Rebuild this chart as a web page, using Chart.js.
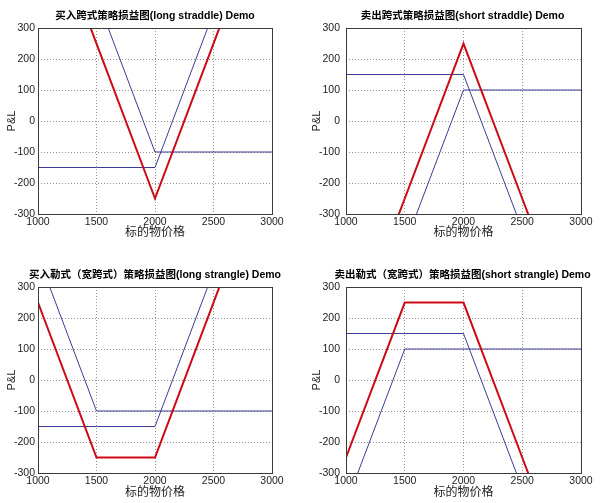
<!DOCTYPE html>
<html>
<head>
<meta charset="utf-8">
<script src="https://cdn.jsdelivr.net/npm/chart.js@4.4.1/dist/chart.umd.min.js"></script>
<style>
    body { margin: 0; background: #fff; width: 600px; height: 503px; position: relative; overflow: hidden; }
    .box { position: absolute; }
</style>
</head>
<body>
<div class="box" style="left:0;top:0;width:310px;height:250px"><canvas id="longStraddle"></canvas></div>
<div class="box" style="left:300px;top:0;width:325px;height:250px"><canvas id="shortStraddle"></canvas></div>
<div class="box" style="left:0;top:250px;width:310px;height:253px"><canvas id="longStrangle"></canvas></div>
<div class="box" style="left:300px;top:250px;width:325px;height:253px"><canvas id="shortStrangle"></canvas></div>
<script>
// underlying prices (kinks at the strikes 1500 / 2000)
const prices = [1000, 1500, 2000, 2500, 3000];
const xTicks = [1000, 1500, 2000, 2500, 3000];
const yTicks = [-300, -200, -100, 0, 100, 200, 300];

// long straddle, strike 2000
const longStraddleCall = [-150, -150, -150, 350, 850];
const longStraddlePut = [900, 400, -100, -100, -100];
const longStraddleTotal = [750, 250, -250, 250, 750];

// short straddle, strike 2000
const shortStraddleCall = [150, 150, 150, -350, -850];
const shortStraddlePut = [-900, -400, 100, 100, 100];
const shortStraddleTotal = [-750, -250, 250, -250, -750];

// long strangle, put 1500 / call 2000
const longStrangleCall = [-150, -150, -150, 350, 850];
const longStranglePut = [400, -100, -100, -100, -100];
const longStrangleTotal = [250, -250, -250, 250, 750];

// short strangle, put 1500 / call 2000
const shortStrangleCall = [150, 150, 150, -350, -850];
const shortStranglePut = [-400, 100, 100, 100, 100];
const shortStrangleTotal = [-250, 250, 250, -250, -750];

const FONT = "'Liberation Sans', 'Noto Sans CJK SC', Arial, sans-serif";
const RED = '#cc0a14';
const BLUE = '#3b3b98';

function pts(vals) {
    return prices.map((p, i) => ({ x: p, y: vals[i] }));
}

// black box round the plot area, like matlab's "box on"
const framePlugin = {
    id: 'frame',
    afterDraw(chart) {
        const { ctx, chartArea: a } = chart;
        ctx.save();
        ctx.strokeStyle = '#3a3a3a';
        ctx.lineWidth = 1;
        ctx.strokeRect(Math.round(a.left) + 0.5, Math.round(a.top) + 0.5,
            Math.round(a.right - a.left), Math.round(a.bottom - a.top));
        ctx.restore();
    }
};

// canvases are sized so their centre sits over the plot centre, so the
// full-width title ends up centred on the axes like in matlab.
// an empty right axis takes the right margin (layout padding would shift the title)
function makeChart(id, title, total, call, put, lay) {
    const ctx = document.getElementById(id).getContext('2d');
    return new Chart(ctx, {
        type: 'line',
        data: {
            datasets: [
                { data: pts(total), borderColor: RED, borderWidth: 2 },
                { data: pts(call), borderColor: BLUE, borderWidth: 1 },
                { data: pts(put), borderColor: BLUE, borderWidth: 1 }
            ]
        },
        options: {
            responsive: true,
            maintainAspectRatio: false,
            animation: false,
            layout: { padding: 0 },
            elements: {
                point: { radius: 0 },
                line: { tension: 0, fill: false }
            },
            datasets: { line: { clip: 0 } },
            plugins: {
                legend: { display: false },
                tooltip: { enabled: false },
                title: {
                    display: true,
                    text: title,
                    color: '#000',
                    font: { family: FONT, size: 10.5, weight: 'bold', lineHeight: 1.25 },
                    padding: { top: lay.titleTop, bottom: lay.titleBottom }
                }
            },
            scales: {
                x: {
                    type: 'linear',
                    min: 1000,
                    max: 3000,
                    afterBuildTicks: s => { s.ticks = xTicks.map(v => ({ value: v })); },
                    afterFit: s => { s.height = lay.xh; },
                    grid: { color: 'rgba(0,0,0,0.42)', drawTicks: false },
                    border: { display: false, dash: [1, 2] },
                    ticks: {
                        color: '#222', padding: 2, maxRotation: 0,
                        font: { family: FONT, size: 10.5 },
                        callback: v => String(v)
                    },
                    title: {
                        display: true,
                        text: '标的物价格',
                        color: '#222',
                        font: { family: FONT, size: 12, lineHeight: 1.2 },
                        padding: { top: 0, bottom: lay.xTitleBottom }
                    }
                },
                y: {
                    min: -300,
                    max: 300,
                    afterBuildTicks: s => { s.ticks = yTicks.map(v => ({ value: v })); },
                    afterFit: s => { s.width = lay.yw; },
                    grid: { color: 'rgba(0,0,0,0.42)', drawTicks: false },
                    border: { display: false, dash: [1, 2] },
                    ticks: {
                        color: '#222', padding: lay.yTickPad,
                        font: { family: FONT, size: 10.5 },
                        callback: v => String(v)
                    },
                    title: {
                        display: true,
                        text: 'P&L',
                        color: '#222',
                        font: { family: FONT, size: 11, lineHeight: 1.2 },
                        padding: { top: lay.yTitlePad, bottom: 0 }
                    }
                },
                spacer: {
                    position: 'right',
                    grid: { display: false },
                    border: { display: false },
                    ticks: { display: false },
                    afterFit: s => { s.width = lay.right; }
                }
            }
        },
        plugins: [framePlugin]
    });
}

makeChart('longStraddle', '买入跨式策略损益图(long straddle) Demo',
    longStraddleTotal, longStraddleCall, longStraddlePut,
    { yw: 38, right: 38, titleTop: 10, titleBottom: 4.9, xh: 36, xTitleBottom: 10, yTickPad: 3, yTitlePad: 5 });

makeChart('shortStraddle', '卖出跨式策略损益图(short straddle) Demo',
    shortStraddleTotal, shortStraddleCall, shortStraddlePut,
    { yw: 46, right: 44, titleTop: 10, titleBottom: 4.9, xh: 36, xTitleBottom: 10, yTickPad: 6, yTitlePad: 10 });

makeChart('longStrangle', '买入勒式（宽跨式）策略损益图(long strangle) Demo',
    longStrangleTotal, longStrangleCall, longStranglePut,
    { yw: 38, right: 38, titleTop: 19, titleBottom: 4.9, xh: 30, xTitleBottom: 3, yTickPad: 3, yTitlePad: 5 });

makeChart('shortStrangle', '卖出勒式（宽跨式）策略损益图(short strangle) Demo',
    shortStrangleTotal, shortStrangleCall, shortStranglePut,
    { yw: 46, right: 44, titleTop: 19, titleBottom: 4.9, xh: 30, xTitleBottom: 3, yTickPad: 6, yTitlePad: 10 });
</script>
</body>
</html>
